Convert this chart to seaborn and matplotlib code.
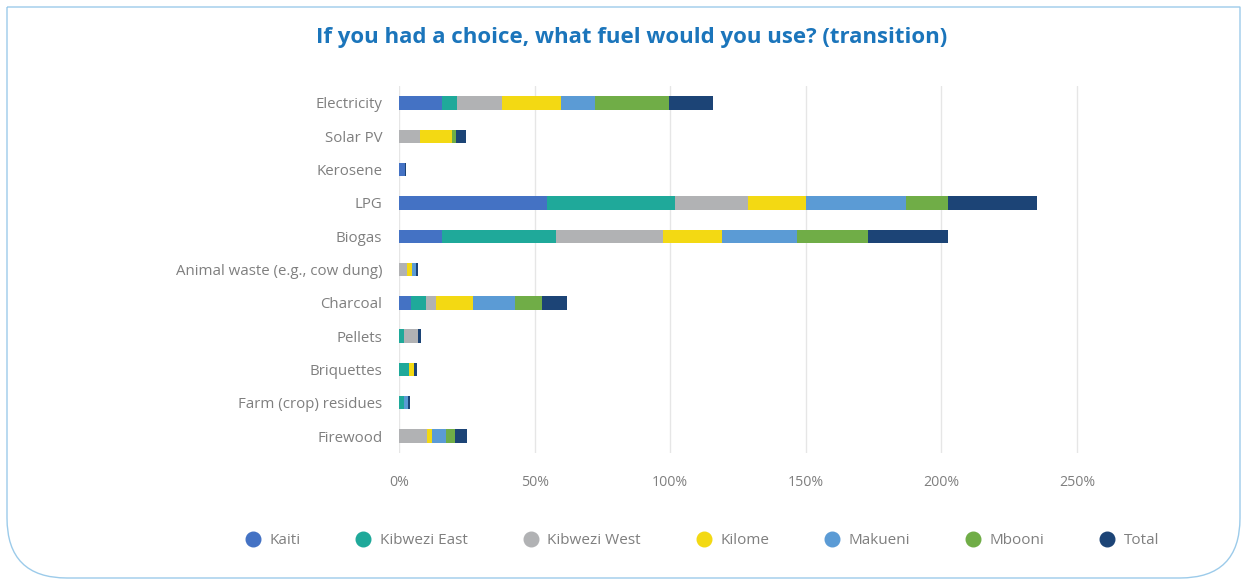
import numpy as np
import pandas as pd
import matplotlib
matplotlib.use("Agg")
import matplotlib.pyplot as plt
from matplotlib.lines import Line2D
from matplotlib.path import Path
from matplotlib.patches import PathPatch
import seaborn as sns

# Fuel options (top to bottom) and share of respondents per sub-county, in %
fuels = ["Electricity", "Solar PV", "Kerosene", "LPG", "Biogas",
         "Animal waste (e.g., cow dung)", "Charcoal", "Pellets",
         "Briquettes", "Farm (crop) residues", "Firewood"]
kaiti         = [15.9, 0.0, 2.3, 54.4, 15.9, 0.0, 4.4, 0.0, 0.0, 0.0, 0.0]
kibwezi_east  = [5.4, 0.0, 0.0, 47.4, 41.9, 0.0, 5.5, 1.8, 3.8, 1.8, 0.0]
kibwezi_west  = [16.8, 7.7, 0.0, 26.9, 39.7, 2.8, 3.7, 5.2, 0.0, 0.0, 10.2]
kilome        = [21.5, 11.8, 0.0, 21.5, 21.6, 2.0, 13.7, 0.0, 1.8, 0.0, 2.1]
makueni       = [12.6, 0.0, 0.0, 36.9, 27.8, 1.3, 15.3, 0.0, 0.0, 1.6, 5.2]
mbooni        = [27.4, 1.7, 0.0, 15.3, 26.1, 0.0, 10.1, 0.0, 0.0, 0.0, 3.2]
total         = [16.3, 3.4, 0.3, 33.0, 29.6, 1.0, 9.1, 1.2, 0.9, 0.5, 4.4]

series_names = ["Kaiti", "Kibwezi East", "Kibwezi West", "Kilome",
                "Makueni", "Mbooni", "Total"]
series_values = [kaiti, kibwezi_east, kibwezi_west, kilome,
                 makueni, mbooni, total]
colors = ["#4472C4", "#1FA99A", "#B1B2B4", "#F3D913",
          "#5B9BD5", "#70AD47", "#1C4476"]
x_ticks = [0, 50, 100, 150, 200, 250]
title = "If you had a choice, what fuel would you use? (transition)"

sns.set_theme(style="white")
plt.rcParams["font.family"] = ["Open Sans", "DejaVu Sans"]

fig = plt.figure(figsize=(12.43, 5.79), dpi=100)
ax = fig.add_axes([0.321, 0.218, 0.589, 0.633])

# Stacked bars: draw cumulative totals from the outermost segment inward
cum = np.cumsum(np.array(series_values), axis=0)
for i in range(len(series_names) - 1, -1, -1):
    df = pd.DataFrame({"fuel": fuels, "value": cum[i]})
    sns.barplot(data=df, x="value", y="fuel", order=fuels, color=colors[i],
                width=0.4, saturation=1, orient="h", ax=ax, zorder=3,
                linewidth=0)

ax.set_xlim(0, 270)
ax.set_ylim(len(fuels) - 0.5, -0.5)
ax.set_xticks(x_ticks)
ax.set_xticklabels([f"{t}%" for t in x_ticks])
ax.set_xlabel("")
ax.set_ylabel("")
ax.grid(axis="x", color="#E6E6E6", linewidth=1, zorder=0)
ax.grid(axis="y", visible=False)
for s in ax.spines.values():
    s.set_visible(False)
ax.tick_params(axis="x", length=0, pad=16, labelsize=10.2, labelcolor="#7F7F7F")
ax.tick_params(axis="y", length=0, pad=12, labelsize=10.8, labelcolor="#7F7F7F")

fig.text(0.508, 0.936, title, ha="center", va="center", fontsize=16,
         fontweight="bold", color="#1B75BB")

handles = [Line2D([], [], linestyle="none", marker="o", markersize=10.5,
                  markerfacecolor=c, markeredgecolor=c) for c in colors]
fig.legend(handles, series_names, loc="center", bbox_to_anchor=(0.565, 0.066),
           ncol=7, frameon=False, fontsize=11, labelcolor="#7F7F7F",
           columnspacing=3.6, handletextpad=0.6, handlelength=1.0)

# Card outline: square top, rounded bottom corners
W, H = fig.bbox.width, fig.bbox.height
r = 60
x0, x1, y_top, y_bot = 7, W - 3, H - 7, 1
verts = [(x0, y_top), (x1, y_top), (x1, y_bot + r),
         (x1, y_bot), (x1 - r, y_bot),
         (x0 + r, y_bot),
         (x0, y_bot), (x0, y_bot + r),
         (x0, y_top)]
codes = [Path.MOVETO, Path.LINETO, Path.LINETO,
         Path.CURVE3, Path.CURVE3,
         Path.LINETO,
         Path.CURVE3, Path.CURVE3,
         Path.LINETO]
verts = [(vx / W, vy / H) for vx, vy in verts]
fig.patches.append(PathPatch(Path(verts, codes), transform=fig.transFigure,
                             fill=False, edgecolor="#9CCBEA", linewidth=1.0))

fig.savefig("out.png", dpi=100, facecolor="white")
